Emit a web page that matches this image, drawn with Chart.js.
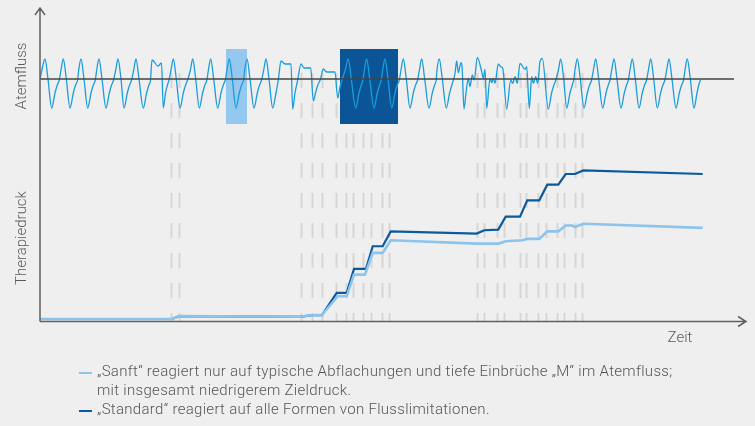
<!DOCTYPE html>
<html lang="de">
<head>
<meta charset="UTF-8">
<title>Atemfluss und Therapiedruck</title>
<script src="https://cdn.jsdelivr.net/npm/chart.js"></script>
<style>
  html, body { margin: 0; padding: 0; background: #efefef; }
  #wrap { position: relative; width: 755px; height: 426px; overflow: hidden; background: #efefef;
          font-family: "Roboto", "Liberation Sans", sans-serif; font-weight: 300; color: #555; }
  #chart { position: absolute; left: 0; top: 0; }
  .ylab { position: absolute; font-size: 15px; color: #5a5a5a; white-space: nowrap;
          transform: translate(-50%, -50%) rotate(-90deg); }
  #zeit { position: absolute; left: 680px; top: 337px; font-size: 15px; color: #5a5a5a;
          transform: translate(-50%, -50%); }
  .leg { position: absolute; left: 97px; font-size: 15px; letter-spacing: 0.3px; line-height: 19px; white-space: nowrap; }
  .mark { position: absolute; left: 79px; width: 13px; height: 2px; }
</style>
</head>
<body>
<div id="wrap">
  <canvas id="chart" width="755" height="426"></canvas>
  <div class="ylab" style="left:21px; top:76px;">Atemfluss</div>
  <div class="ylab" style="left:21px; top:238px;">Therapiedruck</div>
  <div id="zeit">Zeit</div>
  <div class="mark" style="top:372px; background:#8cc4ec;"></div>
  <div class="leg" style="top:362px;">„Sanft“ reagiert nur auf typische Abflachungen und tiefe Einbrüche „M“ im Atemfluss;<br>mit insgesamt niedrigerem Zieldruck.</div>
  <div class="mark" style="top:410px; background:#0b5a9e;"></div>
  <div class="leg" style="top:400px;">„Standard“ reagiert auf alle Formen von Flusslimitationen.</div>
</div>

<script>
// Atemfluss: [Zeit, Fluss] pairs
const flowSamples = [
  [0,0],[2.5,12],
  [5,20],[8,0],[11.7,-29],[15,-14],[17.3,-6],[19.3,-1],[21,9],
  [23.3,20],[26.3,0],[30,-29],[33.3,-14],[35.6,-6],[37.6,-1],[38.7,9],
  [41,20],[44,0],[47.7,-29],[51,-14],[53.3,-6],[55.3,-1],[56.7,9],
  [59,20],[62,0],[66,-29],[69.3,-14],[71.6,-6],[73.6,-1],[75.7,9],
  [78,20],[81,0],[84,-29],[87.3,-14],[89.6,-6],[91.6,-1],[93.7,9],
  [96,20],[99,0],[103.3,-29],[106.6,-14],[108.9,-6],[110.5,-1],
  [112,19],[118,13],[121.5,16],[123.3,-29],[125.5,-14],[127.5,-6],[129,-1],[131,9],
  [133.3,20],[136.3,0],[140,-29],[143.3,-14],[145.6,-6],[147.6,-1],[150.4,9],
  [152.7,20],[155.7,0],[159.3,-29],[162.6,-14],[164.9,-6],[166.9,-1],[168.4,9],
  [170.7,20],[173.7,0],[177.7,-29],[181,-14],[183.3,-6],[185.3,-1],[187,9],
  [189.3,20],[192.3,0],[196,-29],[199.3,-14],[201.6,-6],[203.6,-1],[204.7,9],
  [207,20],[210,0],[214,-29],[217.3,-14],[219.6,-6],[221.6,-1],[223.7,9],
  [226,20],[229,0],[232.7,-29],[236,-14],[238.3,-1],
  [241,18],[245,15],[251,15],[252.7,-30],[255,-14],[257.5,-2],
  [261,15],[264,11],[270.7,11],[273.3,-22],[275.5,-14],[277.5,-7],[280.5,0],
  [283.3,10],[286.7,7],[295,7],[297.7,-19],[300,-8],[302.3,0],[305.5,10],
  [308.3,20],[311.3,0],[315.7,-29],[319,-14],[321.3,-6],[323,-1],[324.4,9],
  [326.7,20],[329.7,0],[334,-29],[337.3,-14],[339.6,-6],[341.2,-1],[342.7,9],
  [345,20],[348,0],[351.7,-29],[355,-14],[357.3,-6],[359.3,-1],[361,9],
  [363.3,20],[366.3,0],[370,-29],[373.3,-14],[375.6,-6],[377.6,-1],[379.4,9],
  [381.7,20],[384.7,0],[389,-29],[392.3,-14],[394.6,-6],[396.2,-1],[397,9],
  [399.3,20],[402.3,0],[406.3,-29],[409.6,-14],[411.9,-6],[413.3,-1],
  [415,5.7],[416.7,18],[418.3,6.3],[421,16.3],[422,13],[424,-30],
  [426,-14],[428.3,0.7],[430,-7.7],[432.3,4],[434.3,-1],[437.3,21.7],[441.7,7.3],[443.3,0.7],[445,9.7],[446.7,-29.3],
  [450,0.7],[451.7,-3.7],[453.3,0.7],[455,-4.3],[458.3,15],[460.7,12.3],[462.7,10.7],[466.7,-30],
  [470.7,-1],[472.7,-4.3],[475,2.3],[477.3,-4.3],[480,15.7],[485,9.7],[486.7,12.3],[489.3,-29.3],
  [491.7,2.3],[493.3,-4.3],[495.7,2.3],[497.7,-4.3],[500,17.3],[502.3,20.7],[508.3,-30],
  [511.6,-14],[513.9,-6],[515.9,-1],[518.4,9],
  [520.7,20],[523.7,0],[526.7,-29],[530,-14],[532.3,-6],[533.7,-1],[535,9],
  [537.3,20],[540.3,0],[544,-29],[547.3,-14],[549.6,-6],[551.6,-1],[553.4,9],
  [555.7,20],[558.7,0],[562.7,-29],[566,-14],[568.3,-6],[570,-1],[571.7,9],
  [574,20],[577,0],[581,-29],[584.3,-14],[586.6,-6],[588.3,-1],[590,9],
  [592.3,20],[595.3,0],[599,-29],[602.3,-14],[604.6,-6],[606.6,-1],[608.4,9],
  [610.7,20],[613.7,0],[617.3,-29],[620.6,-14],[622.9,-6],[624.9,-1],[626.7,9],
  [629,20],[632,0],[636,-29],[639.3,-14],[641.6,-6],[643.6,-1],[645,9],
  [647.3,20],[650.3,0],[654,-29],[657,-14],[659,-5],[660.5,-1]
];

// Therapiedruck
const sanftTime  = [0,132,139,260,272,282,297.7,306.7,314,325,332.7,342.7,350.7,436.7,459,465.7,482,487.3,499.3,507.3,518.3,525.7,532,535,543.3,662.7];
const sanftValue = [4.16,4.16,4.34,4.30,4.41,4.41,5.61,5.61,6.99,6.99,8.38,8.38,9.18,8.97,8.97,9.12,9.18,9.27,9.27,9.75,9.75,10.12,10.12,10.03,10.24,9.97];
const standardTime  = [0,132,139,260,272,282,296.7,306.7,314,326,332.7,342.7,350.7,436.7,444.3,458.3,465.7,480,487.3,499.3,507.3,518.3,525.7,535,543.3,662.7];
const standardValue = [4.16,4.16,4.34,4.30,4.41,4.41,5.83,5.83,7.36,7.36,8.80,8.80,9.75,9.61,9.82,9.86,10.69,10.69,11.73,11.73,12.73,12.73,13.41,13.41,13.64,13.41];

// Zeitpunkte der Druckanpassungen (gestrichelte Linien)
const markerTimes = [131,139,260.7,272.3,282.3,296,305.7,312.7,323.3,331,341.7,349.3,
                     436.7,444.3,456.7,464,480,486,498.3,505.7,516.7,524,534.7,542];

// hervorgehobene Atemzüge
const boxStart = [186, 300];
const boxEnd   = [207, 358];
const boxColor = ['#95c8ee', '#0b5596'];

const overlay = {
  id: 'overlay',
  beforeDatasetsDraw(chart) {
    const { ctx, scales: { x, yF } } = chart;
    ctx.save();
    // gestrichelte Linien zuerst, Kästen darüber
    ctx.strokeStyle = '#d6d6d6';
    ctx.lineWidth = 2;
    ctx.setLineDash([15, 15]);
    const yStart = yF.getPixelForValue(6), yEnd = chart.chartArea.bottom;
    markerTimes.forEach(t => {
      const px = Math.round(x.getPixelForValue(t)) + 0.5;
      ctx.beginPath();
      ctx.moveTo(px, yStart);
      ctx.lineTo(px, yEnd);
      ctx.stroke();
    });
    ctx.setLineDash([]);
    const top = yF.getPixelForValue(30), bot = yF.getPixelForValue(-45);
    boxStart.forEach((s, i) => {
      const x0 = x.getPixelForValue(s), x1 = x.getPixelForValue(boxEnd[i]);
      ctx.fillStyle = boxColor[i];
      ctx.fillRect(x0, top, x1 - x0, bot - top);
    });
    ctx.restore();
  },
  afterDatasetsDraw(chart) {
    const { ctx, chartArea: a, scales: { x, yF } } = chart;
    ctx.save();
    // Nulllinie Atemfluss
    const y0 = yF.getPixelForValue(0);
    ctx.strokeStyle = '#444';
    ctx.lineWidth = 1.5;
    ctx.beginPath();
    ctx.moveTo(a.left, y0);
    ctx.lineTo(x.getPixelForValue(694), y0);
    ctx.stroke();
    // Achsen mit Pfeilen
    ctx.strokeStyle = '#606060';
    ctx.lineWidth = 1.5;
    ctx.beginPath();
    ctx.moveTo(a.left, a.bottom);
    ctx.lineTo(a.left, a.top);
    ctx.moveTo(a.left - 5, a.top + 7);
    ctx.lineTo(a.left, a.top);
    ctx.lineTo(a.left + 5, a.top + 7);
    ctx.moveTo(a.left, a.bottom);
    ctx.lineTo(a.right, a.bottom);
    ctx.moveTo(a.right - 8, a.bottom - 5);
    ctx.lineTo(a.right, a.bottom);
    ctx.lineTo(a.right - 8, a.bottom + 5);
    ctx.stroke();
    ctx.restore();
  }
};

new Chart(document.getElementById('chart'), {
  type: 'line',
  data: {
    datasets: [
      {
        label: 'Atemfluss',
        data: flowSamples.map(p => ({ x: p[0], y: p[1] })),
        yAxisID: 'yF',
        borderColor: '#1a9ddc',
        borderWidth: 1.3,
        pointRadius: 0,
        cubicInterpolationMode: 'monotone',
        order: 0
      },
      {
        label: 'Sanft',
        data: sanftTime.map((t, i) => ({ x: t, y: sanftValue[i] })),
        yAxisID: 'yP',
        borderColor: '#8cc4ec',
        borderWidth: 2.6,
        pointRadius: 0,
        tension: 0,
        order: 1
      },
      {
        label: 'Standard',
        data: standardTime.map((t, i) => ({ x: t, y: standardValue[i] })),
        yAxisID: 'yP',
        borderColor: '#0b5a9e',
        borderWidth: 2.2,
        pointRadius: 0,
        tension: 0,
        order: 2
      }
    ]
  },
  options: {
    responsive: false,
    animation: false,
    devicePixelRatio: 1,
    layout: { padding: { left: 40, right: 9, top: 8, bottom: 104.5 } },
    scales: {
      x: { type: 'linear', min: 0, max: 706, display: false },
      yF: { type: 'linear', min: -242.5, max: 71, display: false },
      yP: { type: 'linear', min: 4, max: 24, display: false }
    },
    plugins: { legend: { display: false }, tooltip: { enabled: false } }
  },
  plugins: [overlay]
});
</script>
</body>
</html>
